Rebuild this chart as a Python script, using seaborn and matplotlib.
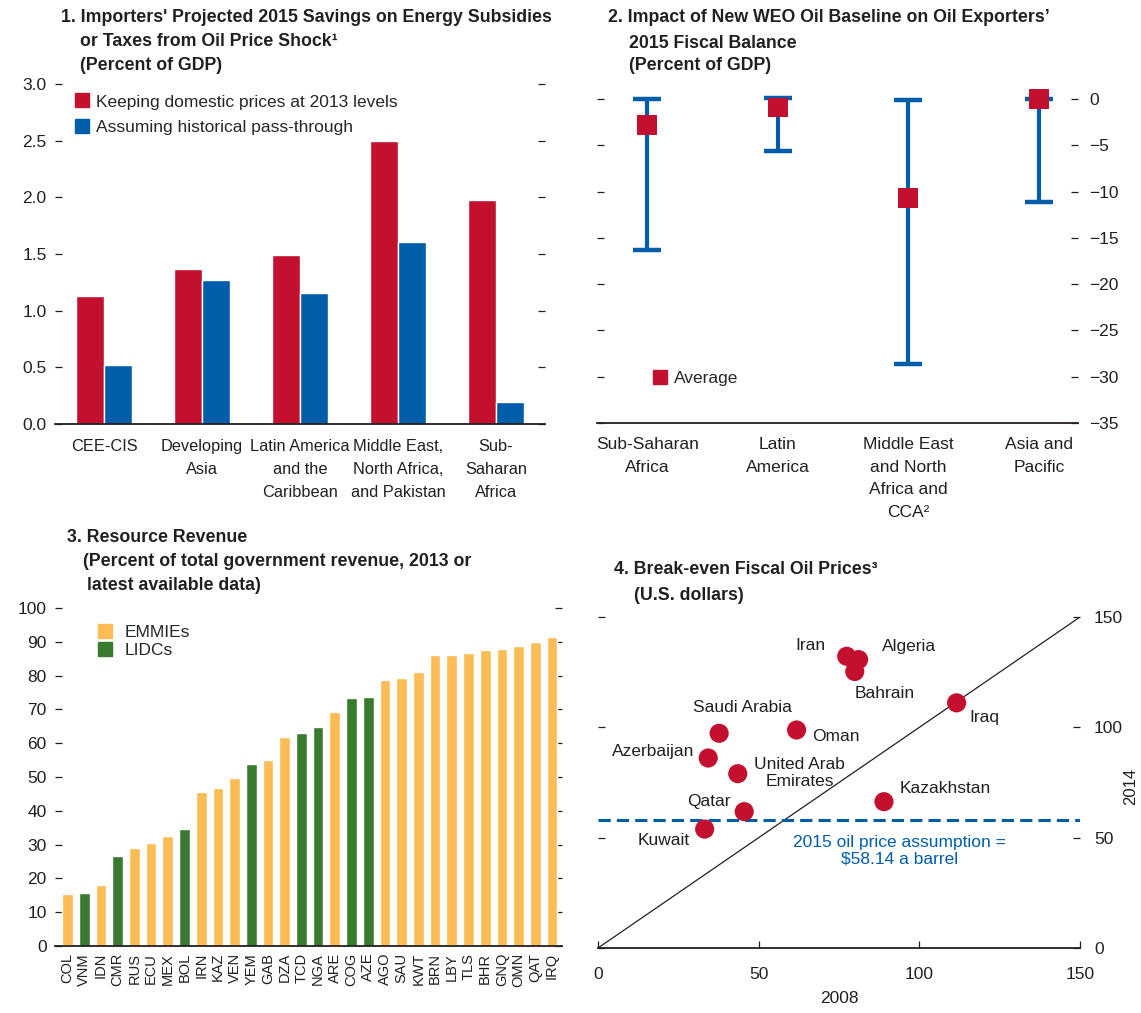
import matplotlib
matplotlib.use('Agg')
import matplotlib.pyplot as plt
import seaborn as sns
import pandas as pd
import numpy as np
from matplotlib.lines import Line2D

# ---------------- data ----------------
p1_regions = ["CEE-CIS", "Developing\nAsia", "Latin America\nand the\nCaribbean",
              "Middle East,\nNorth Africa,\nand Pakistan", "Sub-\nSaharan\nAfrica"]
p1_keep = [1.13, 1.37, 1.49, 2.50, 1.98]
p1_pass = [0.52, 1.27, 1.16, 1.61, 0.19]
p1_series = ["Keeping domestic prices at 2013 levels", "Assuming historical pass-through"]

p2_regions = ["Sub-Saharan\nAfrica", "Latin\nAmerica", "Middle East\nand North\nAfrica and\nCCA\u00b2",
              "Asia and\nPacific"]
p2_avg = [-2.8, -0.9, -10.7, 0.0]
p2_high = [0.0, 0.1, -0.1, 0.0]
p2_low = [-16.3, -5.6, -28.6, -11.1]

p3_codes = ["COL", "VNM", "IDN", "CMR", "RUS", "ECU", "MEX", "BOL", "IRN", "KAZ",
            "VEN", "YEM", "GAB", "DZA", "TCD", "NGA", "ARE", "COG", "AZE", "AGO",
            "SAU", "KWT", "BRN", "LBY", "TLS", "BHR", "GNQ", "OMN", "QAT", "IRQ"]
p3_values = [15.3, 15.6, 17.9, 26.5, 28.9, 30.6, 32.4, 34.5, 45.7, 46.6,
             49.6, 53.7, 54.9, 61.7, 62.9, 64.9, 69.1, 73.5, 73.8, 78.8,
             79.4, 81.2, 86.2, 86.2, 86.8, 87.7, 88.0, 88.9, 90.0, 91.5]
p3_groups = ["EMMIEs", "LIDCs", "EMMIEs", "LIDCs", "EMMIEs", "EMMIEs", "EMMIEs", "LIDCs",
             "EMMIEs", "EMMIEs", "EMMIEs", "LIDCs", "EMMIEs", "EMMIEs", "LIDCs", "LIDCs",
             "EMMIEs", "LIDCs", "LIDCs", "EMMIEs", "EMMIEs", "EMMIEs", "EMMIEs", "EMMIEs",
             "EMMIEs", "EMMIEs", "EMMIEs", "EMMIEs", "EMMIEs", "EMMIEs"]

p4_countries = ["Iran", "Algeria", "Bahrain", "Iraq", "Saudi Arabia", "Oman", "Azerbaijan",
                "United Arab\nEmirates", "Kazakhstan", "Qatar", "Kuwait"]
p4_2008 = [77.4, 81.1, 79.9, 111.6, 37.7, 61.8, 34.3, 43.5, 89.0, 45.5, 33.2]
p4_2014 = [132.2, 130.7, 125.3, 111.1, 97.3, 98.8, 86.1, 79.0, 66.3, 61.8, 53.9]
p4_assumption = 58.14

# ---------------- layout / style ----------------
RED = "#C4102F"
BLUE = "#005DAA"
YELLOW = "#FDBD56"
GREEN = "#387B2E"
DARK = "#231F20"

sns.set_theme(style="white")
plt.rcParams['font.family'] = ['Liberation Sans', 'DejaVu Sans']
plt.rcParams['axes.unicode_minus'] = True

W, H = 1141, 1013
fig = plt.figure(figsize=(W / 100, H / 100), dpi=100)


def box(x0, x1, ytop, ybot):
    return [x0 / W, 1 - ybot / H, (x1 - x0) / W, (ybot - ytop) / H]


def style_axes(ax):
    for s in ["top", "left", "right"]:
        ax.spines[s].set_visible(False)
    ax.spines["bottom"].set_color(DARK)
    ax.spines["bottom"].set_linewidth(1.3)
    ax.tick_params(axis="y", direction="in", length=5, width=0.9, color=DARK,
                   left=True, right=True, labelsize=12.5, labelcolor=DARK)
    ax.tick_params(axis="x", labelsize=12.5, labelcolor=DARK)
    ax.set_xlabel("")
    ax.set_ylabel("")
    ax.grid(False)


TFS = 12.8
def title(lines):
    for (x, y, txt) in lines:
        fig.text(x / W, 1 - y / H, txt, fontsize=TFS, fontweight="bold", color=DARK,
                 ha="left", va="center")


# ---------------- panel 1 ----------------
ax1 = fig.add_axes(box(55, 545, 84, 424))
df1 = pd.DataFrame({
    "region": p1_regions * 2,
    "value": p1_keep + p1_pass,
    "series": [p1_series[0]] * len(p1_regions) + [p1_series[1]] * len(p1_regions),
})
sns.barplot(data=df1, x="region", y="value", hue="series", hue_order=p1_series,
            palette=[RED, BLUE], width=0.57, saturation=1, ax=ax1, legend=False)
ax1.set_ylim(0, 3.0)
ax1.set_xlim(-0.5, 4.5)
ax1.set_yticks(np.arange(0, 3.01, 0.5))
ax1.set_yticklabels([f"{v:.1f}" for v in np.arange(0, 3.01, 0.5)])
style_axes(ax1)
ax1.tick_params(axis="y", labelright=False, pad=6)
ax1.tick_params(axis="x", length=0, pad=11, labelsize=11.8)
for t in ax1.get_xticklabels():
    t.set_linespacing(1.65)
h1 = [Line2D([], [], marker="s", ls="none", color=c, markersize=10) for c in [RED, BLUE]]
ax1.legend(h1, p1_series, loc="upper left", bbox_to_anchor=(0.02, 1.0), frameon=False,
           fontsize=12.5, handlelength=0.8, handletextpad=0.4, labelspacing=0.6,
           borderaxespad=0.2)
title([(61, 18, "1. Importers' Projected 2015 Savings on Energy Subsidies"),
       (80, 42, "or Taxes from Oil Price Shock\u00b9"),
       (80, 66, "(Percent of GDP)")])

# ---------------- panel 2 ----------------
ax2 = fig.add_axes(box(597, 1078, 94.4, 423))
xpos = np.arange(len(p2_regions))
low = np.array(p2_low)
high = np.array(p2_high)
ax2.errorbar(xpos, (low + high) / 2, yerr=(high - low) / 2, fmt="none", ecolor=BLUE,
             elinewidth=3, capsize=10, capthick=3.2, zorder=2, clip_on=False)
sns.scatterplot(x=p2_regions, y=p2_avg, marker="s", s=200, color=RED, edgecolor="none",
                ax=ax2, zorder=3, clip_on=False, legend=False)
ax2.set_xlim(-0.385, 3.3)
ax2.set_ylim(-35, 0.5)
ax2.set_yticks(np.arange(-35, 1, 5))
ax2.set_yticklabels([f"{v:d}".replace("-", "\u2212") for v in np.arange(-35, 1, 5)])
style_axes(ax2)
ax2.tick_params(axis="y", labelleft=False, labelright=True, pad=8)
ax2.tick_params(axis="x", length=0, pad=10)
ax2.set_xticks(xpos)
ax2.set_xticklabels(p2_regions, linespacing=1.65)
h2 = [Line2D([], [], marker="s", ls="none", color=RED, markersize=10)]
ax2.legend(h2, ["Average"], loc="lower left", bbox_to_anchor=(0.085, 0.065), frameon=False,
           fontsize=12.5, handlelength=0.8, handletextpad=0.4)
title([(608, 18, "2. Impact of New WEO Oil Baseline on Oil Exporters\u2019"),
       (629, 43, "2015 Fiscal Balance"),
       (629, 66, "(Percent of GDP)")])

# ---------------- panel 3 ----------------
ax3 = fig.add_axes(box(55, 562, 608, 946))
df3 = pd.DataFrame({"code": p3_codes, "value": p3_values, "group": p3_groups})
sns.barplot(data=df3, x="code", y="value", hue="group", hue_order=["EMMIEs", "LIDCs"],
            palette=[YELLOW, GREEN], dodge=False, width=0.64, saturation=1, ax=ax3,
            legend=False)
ax3.set_xlim(-0.75, len(p3_codes) - 0.4)
ax3.set_ylim(0, 100)
ax3.set_yticks(np.arange(0, 101, 10))
style_axes(ax3)
ax3.tick_params(axis="y", labelright=False, pad=6)
ax3.tick_params(axis="x", length=0, labelsize=10.5, rotation=90, pad=5)
h3 = [Line2D([], [], marker="s", ls="none", color=c, markersize=10) for c in [YELLOW, GREEN]]
ax3.legend(h3, ["EMMIEs", "LIDCs"], loc="upper left", bbox_to_anchor=(0.055, 0.995),
           frameon=False, fontsize=12.5, handlelength=0.8, handletextpad=0.7,
           labelspacing=0.15)
title([(67, 537, "3. Resource Revenue"),
       (83, 562, "(Percent of total government revenue, 2013 or"),
       (87, 585, "latest available data)")])

# ---------------- panel 4 ----------------
ax4 = fig.add_axes(box(598, 1080, 617, 948))
ax4.axline((0, 0), slope=1, color=DARK, lw=0.9, zorder=1)
ax4.axhline(p4_assumption, color=BLUE, lw=2.2, dashes=(4, 2), zorder=1)
sns.scatterplot(x=p4_2008, y=p4_2014, s=190, color=RED, edgecolor="none", ax=ax4,
                zorder=3, legend=False)
ax4.set_xlim(0, 150)
ax4.set_ylim(0, 150)
ax4.set_xticks([0, 50, 100, 150])
ax4.set_yticks([0, 50, 100, 150])
style_axes(ax4)
ax4.tick_params(axis="x", direction="in", length=5, width=0.9, color=DARK, bottom=True,
                pad=14)
ax4.tick_params(axis="y", labelleft=False, labelright=True, pad=10)
ax4.set_xlabel("2008", fontsize=12.5, color=DARK, labelpad=6)
fig.text(1131 / W, 1 - 786 / H, "2014", fontsize=12, color=DARK, rotation=90,
         ha="center", va="center")

# label placements (data coords, alignment)
p4_label_pos = [(70.9, 137.0, "right"), (88.4, 136.5, "left"), (80.0, 115.3, "left"),
                (115.6, 104.5, "left"), (45.0, 109.0, "center"), (66.6, 96.0, "left"),
                (30.0, 89.0, "right"), (62.7, 79.3, "center"), (93.8, 72.2, "left"),
                (41.2, 66.2, "right"), (28.6, 48.7, "right")]
for name, (lx, ly, ha) in zip(p4_countries, p4_label_pos):
    ax4.text(lx, ly, name, fontsize=12.5, color=DARK, ha=ha, va="center",
             linespacing=1.1, zorder=4)
ax4.text(93.8, 44.2, "2015 oil price assumption =\n$58.14 a barrel", fontsize=12.5,
         color=BLUE, ha="center", va="center", linespacing=1.15)
title([(614, 570, "4. Break-even Fiscal Oil Prices\u00b3"),
       (634, 595, "(U.S. dollars)")])

fig.savefig("out.png", dpi=100)
